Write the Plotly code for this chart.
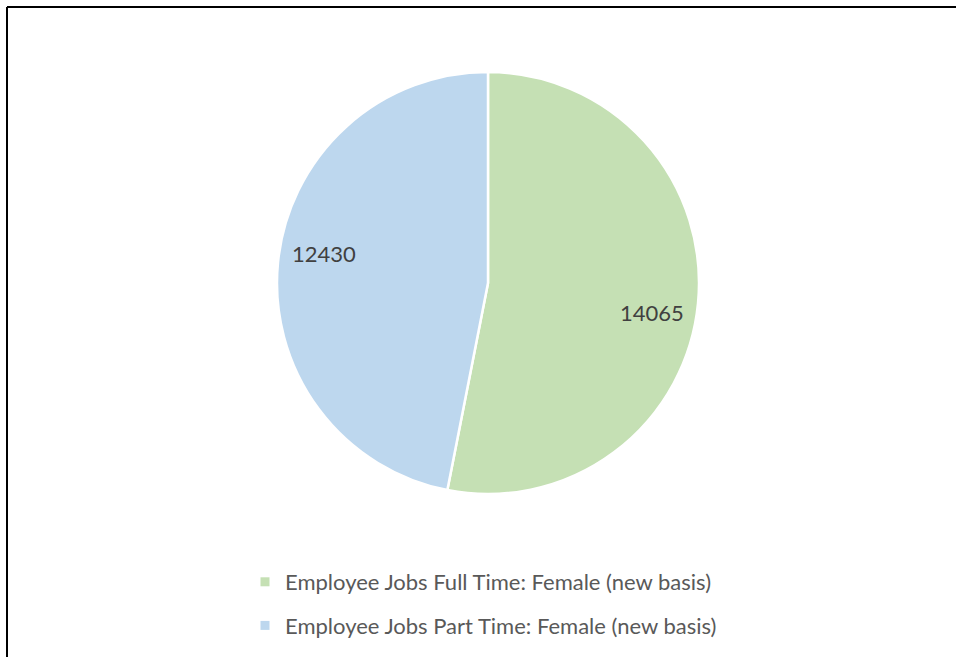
import math
import plotly.graph_objects as go

# Employee jobs held by women, split by working pattern
categories = [
    "Employee Jobs Full Time: Female (new basis)",
    "Employee Jobs Part Time: Female (new basis)",
]
values = [14065, 12430]
colors = ["#C5E0B4", "#BDD7EE"]

W, H = 956, 657
FONT = "Lato, Carlito, Calibri, sans-serif"

# pie placement in pixels
CX, CY, R = 488, 283, 211
LABEL_R = 0.79          # label distance from centre, as a share of the radius
LABEL_TURN = 4.5        # small clockwise turn of each label off the bisector (deg)

fig = go.Figure()

fig.add_trace(go.Pie(
    labels=categories,
    values=values,
    sort=False,
    direction="clockwise",
    rotation=0,
    marker=dict(colors=colors, line=dict(color="white", width=2.5)),
    textinfo="none",
    showlegend=False,
    hoverinfo="label+value",
    domain=dict(x=[(CX - R) / W, (CX + R) / W], y=[1 - (CY + R) / H, 1 - (CY - R) / H]),
))

# value labels placed near each slice's bisector, toward the rim
total = sum(values)
start = 0.0
for v in values:
    frac = v / total
    mid = (start + frac / 2) * 2 * math.pi + math.radians(LABEL_TURN)
    start += frac
    rr = LABEL_R * R
    px = CX + rr * math.sin(mid)
    py = CY - rr * math.cos(mid)
    fig.add_annotation(
        x=px / W, y=1 - py / H, xref="paper", yref="paper",
        xanchor="center", yanchor="middle",
        text=str(v), showarrow=False,
        font=dict(family=FONT, size=22, color="#404040"),
    )

# Legend entries, one per category, so the rows can be spaced apart
for i, (name, col) in enumerate(zip(categories, colors)):
    fig.add_trace(go.Scatter(
        x=[None], y=[None], mode="markers", name=name,
        legendgroup=f"g{i}",
        marker=dict(symbol="square", size=9, color=col),
        hoverinfo="skip",
    ))

fig.update_layout(
    width=W, height=H,
    margin=dict(l=0, r=0, t=0, b=0),
    paper_bgcolor="white",
    plot_bgcolor="white",
    xaxis=dict(visible=False),
    yaxis=dict(visible=False),
    legend=dict(
        orientation="v",
        x=245 / W, xanchor="left",
        y=1 - 561 / H, yanchor="top",
        font=dict(family=FONT, size=22, color="#595959"),
        tracegroupgap=12,
        itemwidth=30,
        bgcolor="rgba(0,0,0,0)",
    ),
    shapes=[
        dict(type="line", xref="paper", yref="paper",
             x0=7 / W, x1=1.02, y0=1 - 7 / H, y1=1 - 7 / H,
             line=dict(color="black", width=2)),
        dict(type="line", xref="paper", yref="paper",
             x0=7 / W, x1=7 / W, y0=1 - 7 / H, y1=-0.02,
             line=dict(color="black", width=2)),
    ],
)

fig.write_html("out.html")
